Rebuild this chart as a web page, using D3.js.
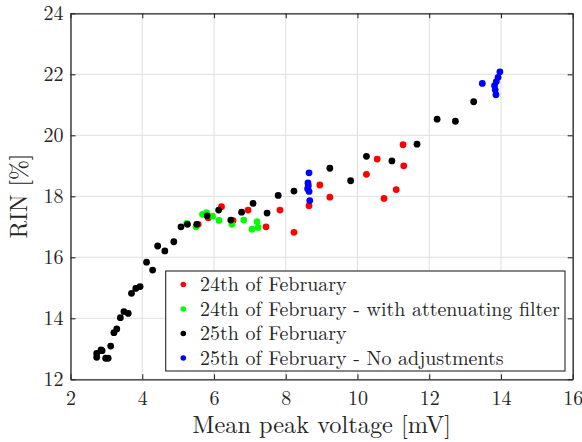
<!DOCTYPE html>
<html>
<head>
<meta charset="utf-8">
<script src="https://cdn.jsdelivr.net/npm/d3@7"></script>
<style>
  html, body { margin: 0; padding: 0; background: #fff; }
  svg { display: block; }
</style>
</head>
<body>
<svg id="chart" width="582" height="442"></svg>
<script>
// ---- data ----
const seriesNames = [
  "24th of February",
  "24th of February - with attenuating filter",
  "25th of February",
  "25th of February - No adjustments"
];
const seriesColors = ["#ff0000", "#00ff00", "#000000", "#0000ff"];

const feb24 = [
  [5.56,17.08],[5.84,17.30],[6.21,17.66],[6.53,17.20],[6.95,17.55],[7.45,17.00],
  [7.84,17.55],[8.23,16.82],[8.65,17.69],[8.95,18.37],[9.23,17.97],[10.25,18.72],
  [10.55,19.22],[10.74,17.93],[11.08,18.22],[11.29,19.00],[11.27,19.69]
];
const feb24Filter = [
  [5.24,17.11],[5.50,17.00],[5.68,17.41],[5.79,17.46],[5.96,17.35],[6.14,17.21],
  [6.50,17.08],[6.83,17.22],[7.06,16.92],[7.20,17.17],[7.23,16.98]
];
const feb25 = [
  [2.73,12.85],[2.73,12.72],[2.85,12.96],[2.88,12.94],[2.98,12.69],[3.05,12.69],
  [3.12,13.09],[3.21,13.53],[3.29,13.65],[3.39,14.02],[3.49,14.22],[3.61,14.16],
  [3.70,14.82],[3.82,14.98],[3.94,15.04],[4.12,15.84],[4.29,15.58],[4.43,16.37],
  [4.63,16.21],[4.88,16.51],[5.08,17.00],[5.26,17.08],[5.52,17.08],[5.81,17.36],
  [6.13,17.55],[6.47,17.22],[6.77,17.48],[7.09,17.77],[7.48,17.45],[7.79,18.03],
  [8.23,18.17],[9.23,18.92],[9.81,18.51],[10.25,19.31],[10.96,19.16],[11.66,19.71],
  [12.22,20.53],[12.73,20.46],[13.24,21.10]
];
const feb25NoAdj = [
  [8.65,18.77],[8.62,18.44],[8.63,18.35],[8.61,18.25],[8.65,18.16],[8.67,17.86],
  [13.48,21.70],[13.97,22.08],[13.92,21.90],[13.87,21.76],[13.82,21.63],[13.84,21.49],[13.86,21.33]
];
const allSeries = [feb24, feb24Filter, feb25, feb25NoAdj];

const xTicks = [2, 4, 6, 8, 10, 12, 14, 16];
const yTicks = [12, 14, 16, 18, 20, 22, 24];
const xLabel = "Mean peak voltage [mV]";
const yLabel = "RIN [%]";

// ---- layout ----
const FONT = "Latin Modern Roman, CMU Serif, Liberation Serif, serif";
const mLeft = 70.5, mRight = 572.7, mTop = 13.3, mBottom = 379.3;
const svg = d3.select("#chart");
const x = d3.scaleLinear().domain([2, 16]).range([mLeft, mRight]);
const y = d3.scaleLinear().domain([12, 24]).range([mBottom, mTop]);
const axisColor = "#262626";

function fitFont(sel, base, target) {
  sel.attr("font-size", base);
  const w = sel.node().getComputedTextLength();
  if (w > 0) sel.attr("font-size", (base * target / w).toFixed(2));
}

// grid
const grid = svg.append("g");
grid.selectAll("line.gx").data(xTicks).join("line")
  .attr("x1", d => x(d)).attr("x2", d => x(d)).attr("y1", mTop).attr("y2", mBottom)
  .attr("stroke", "#dfdfdf").attr("stroke-width", 1);
grid.selectAll("line.gy").data(yTicks).join("line")
  .attr("y1", d => y(d)).attr("y2", d => y(d)).attr("x1", mLeft).attr("x2", mRight)
  .attr("stroke", "#dfdfdf").attr("stroke-width", 1);

// points
const pts = svg.append("g");
allSeries.forEach((s, i) => {
  pts.append("g").selectAll("circle").data(s).join("circle")
    .attr("cx", d => x(d[0])).attr("cy", d => y(d[1])).attr("r", 3.4)
    .attr("fill", seriesColors[i]);
});

// axes (MATLAB box with inward ticks)
const tl = 5;
const tickFont = 20;
const xAxisB = d3.axisBottom(x).tickValues(xTicks).tickSizeInner(-tl).tickSizeOuter(0).tickPadding(12);
const xAxisT = d3.axisTop(x).tickValues(xTicks).tickSizeInner(-tl).tickSizeOuter(0).tickFormat("");
const yAxisL = d3.axisLeft(y).tickValues(yTicks).tickSizeInner(-tl).tickSizeOuter(0).tickPadding(7);
const yAxisR = d3.axisRight(y).tickValues(yTicks).tickSizeInner(-tl).tickSizeOuter(0).tickFormat("");

function styleAxis(g) {
  g.attr("font-family", FONT).attr("font-size", tickFont);
  g.select(".domain").attr("stroke", axisColor).attr("stroke-width", 1.3);
  g.selectAll(".tick line").attr("stroke", axisColor).attr("stroke-width", 1.1);
  g.selectAll(".tick text").attr("fill", axisColor);
}

svg.append("g").attr("transform", `translate(0,${mBottom})`).call(xAxisB).call(styleAxis);
svg.append("g").attr("transform", `translate(0,${mTop})`).call(xAxisT).call(styleAxis);
svg.append("g").attr("transform", `translate(${mLeft},0)`).call(yAxisL).call(styleAxis);
svg.append("g").attr("transform", `translate(${mRight},0)`).call(yAxisR).call(styleAxis);

// axis titles
const xt = svg.append("text").attr("x", (mLeft + mRight) / 2).attr("y", 433)
  .attr("text-anchor", "middle").attr("font-family", FONT).attr("fill", axisColor).text(xLabel);
fitFont(xt, 22, 259);
const yt = svg.append("text").attr("transform", `translate(27,196) rotate(-90)`)
  .attr("text-anchor", "middle").attr("font-family", FONT).attr("fill", axisColor).text(yLabel);
fitFont(yt, 22, 85);

// legend
const lg = svg.append("g");
const lx0 = 165.7, ly0 = 271, lw = 399.3, lh = 100;
lg.append("rect").attr("x", lx0).attr("y", ly0).attr("width", lw).attr("height", lh)
  .attr("fill", "#fff").attr("stroke", axisColor).attr("stroke-width", 1.1);
const rowY = d3.scalePoint().domain(seriesNames).range([284.5, 358]);
const legTexts = [];
seriesNames.forEach((n, i) => {
  lg.append("circle").attr("cx", 183.3).attr("cy", rowY(n)).attr("r", 2.8).attr("fill", seriesColors[i]);
  legTexts.push(lg.append("text").attr("x", 200).attr("y", rowY(n)).attr("dy", "0.33em")
    .attr("font-family", FONT).attr("fill", axisColor).attr("font-size", 20).text(n));
});
// size legend font so the longest entry spans the same width as in the reference
const longest = legTexts[1];
longest.attr("font-size", 20);
const lw1 = longest.node().getComputedTextLength();
const legFont = lw1 > 0 ? (20 * 360 / lw1) : 20;
legTexts.forEach(t => t.attr("font-size", legFont.toFixed(2)));
</script>
</body>
</html>
